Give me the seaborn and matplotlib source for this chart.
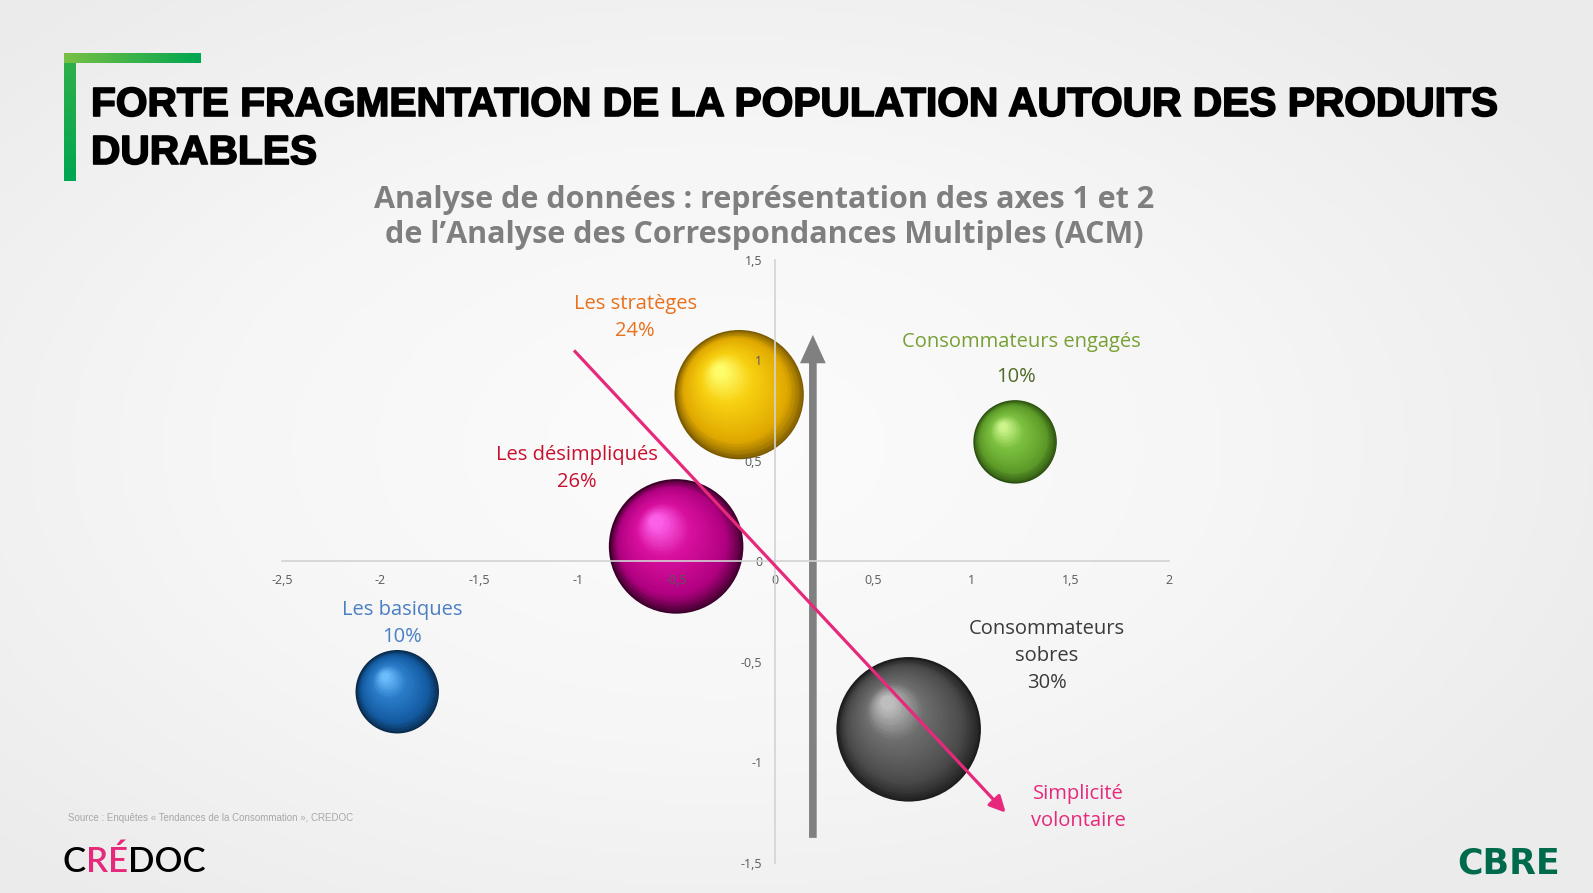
import numpy as np
import pandas as pd
import seaborn as sns
import matplotlib.pyplot as plt
import matplotlib.patheffects as pe
from matplotlib.colors import LinearSegmentedColormap
from matplotlib.transforms import ScaledTranslation
from matplotlib.patches import FancyArrowPatch

# Données (ACM, axes 1 et 2)
segments = ["Les stratèges", "Les désimpliqués", "Consommateurs engagés",
            "Les basiques", "Consommateurs sobres"]
axe1 = [-0.18, -0.50, 1.22, -1.915, 0.68]
axe2 = [0.83, 0.075, 0.595, -0.648, -0.835]
parts = [24, 26, 10, 10, 30]

x_ticks = [-2.5, -2, -1.5, -1, -0.5, 0, 0.5, 1, 1.5, 2]
y_ticks = [-1.5, -1, -0.5, 0, 0.5, 1, 1.5]

# flèches (départ, arrivée) en coordonnées des axes
fleche_axe = [(0.194, -1.375), (0.194, 1.127)]
fleche_simplicite = [(-1.018, 1.05), (1.173, -1.25)]

df = pd.DataFrame({"segment": segments, "axe1": axe1, "axe2": axe2, "part": parts})

# couleurs des sphères : bord sombre, teinte, teinte claire, reflet
couleurs = {
    "Les stratèges": ["#7a5a00", "#e0a800", "#f7cf10", "#ffff70"],
    "Les désimpliqués": ["#3a0028", "#b00080", "#d8109e", "#ff66ee"],
    "Consommateurs engagés": ["#2b4f10", "#5c9a28", "#7cc040", "#d0f890"],
    "Les basiques": ["#082848", "#135aa0", "#2a7cc8", "#70c0ff"],
    "Consommateurs sobres": ["#1c1c1c", "#4a4a4a", "#6e6e6e", "#c4c4c4"],
}

DPI = 100
fig = plt.figure(figsize=(15.93, 8.93), dpi=DPI)

# fond clair en dégradé
bg = fig.add_axes([0, 0, 1, 1], zorder=-10)
yy, xx = np.mgrid[0:1:200j, 0:1:360j]
d = np.sqrt(((xx - 0.45) / 0.75) ** 2 + ((yy - 0.5) / 0.8) ** 2)
fond = LinearSegmentedColormap.from_list("fond", ["#fdfcfd", "#f7f6f7", "#ebebeb"])
bg.imshow(d, cmap=fond, extent=[0, 1, 0, 1], aspect="auto", vmin=0, vmax=0.85)
bg.set_xlim(0, 1)
bg.set_ylim(0, 1)
bg.axis("off")

# équerre verte du titre
barre_h = fig.add_axes([64 / 1593, 1 - 63 / 893, 137 / 1593, 10 / 893])
barre_h.imshow(np.linspace(0, 1, 50)[None, :], aspect="auto",
               cmap=LinearSegmentedColormap.from_list("v1", ["#78c043", "#00a651"]))
barre_h.axis("off")
barre_v = fig.add_axes([64 / 1593, 1 - 181 / 893, 12 / 1593, 118 / 893])
barre_v.imshow(np.linspace(0, 1, 50)[:, None], aspect="auto",
               cmap=LinearSegmentedColormap.from_list("v2", ["#2eaf4a", "#00a651"]))
barre_v.axis("off")

ax = fig.add_axes([0.177, 0.0336, 0.5567, 0.6753])
ax.patch.set_alpha(0)

echelle = 361.0  # surface du marqueur (pt²) pour 1 %
tailles = {p: echelle * p for p in sorted(set(parts))}
sns.scatterplot(data=df, x="axe1", y="axe2", hue="segment",
                palette={k: v[0] for k, v in couleurs.items()},
                size="part", sizes=tailles, legend=False, linewidth=0,
                ax=ax, zorder=1)

# dégradé sphérique : disques successifs décalés vers le reflet
n_couches = 40
for _, row in df.iterrows():
    cmap = LinearSegmentedColormap.from_list(
        row["segment"], list(zip([0, 0.28, 0.7, 1], couleurs[row["segment"]])))
    rayon = np.sqrt(echelle * row["part"]) / 2
    for k in range(1, n_couches):
        t = k / n_couches
        f = 1 - 0.93 * t
        dx = -0.33 * rayon * (1 - f)
        dy = 0.41 * rayon * (1 - f)
        tr = ax.transData + ScaledTranslation(dx / 72, dy / 72, fig.dpi_scale_trans)
        ax.scatter([row["axe1"]], [row["axe2"]], s=(2 * rayon * f) ** 2,
                   color=cmap(t ** 0.8), linewidths=0, transform=tr, zorder=1)

# axes croisés à l'origine
ax.set_xlim(-2.5, 2)
ax.set_ylim(-1.5, 1.5)
for s in ["top", "right"]:
    ax.spines[s].set_visible(False)
for s in ["left", "bottom"]:
    ax.spines[s].set_position(("data", 0))
    ax.spines[s].set_color("#d3d3d3")
    ax.spines[s].set_linewidth(1.2)
ax.set_xticks(x_ticks)
ax.set_yticks(y_ticks)
fmt = lambda v: f"{v:g}".replace(".", ",")
ax.set_xticklabels([fmt(v) for v in x_ticks])
ax.set_yticklabels([fmt(v) for v in y_ticks])
ax.tick_params(axis="x", length=0, pad=9, labelsize=9, labelcolor="#595959")
ax.tick_params(axis="y", length=0, pad=9, labelsize=9, labelcolor="#595959")
for lab in ax.get_xticklabels() + ax.get_yticklabels():
    lab.set_family("Open Sans")
ax.set_xlabel("")
ax.set_ylabel("")

# flèches
ax.add_patch(FancyArrowPatch(fleche_axe[0], fleche_axe[1],
                             arrowstyle="-|>,head_length=0.55,head_width=0.25",
                             mutation_scale=20, lw=5.5, color="#808080",
                             shrinkA=0, shrinkB=0, capstyle="butt", joinstyle="miter",
                             zorder=2))
ax.add_patch(FancyArrowPatch(fleche_simplicite[0], fleche_simplicite[1],
                             arrowstyle="-|>,head_length=0.7,head_width=0.35",
                             mutation_scale=14, lw=2.3, color="#e6297b",
                             shrinkA=0, shrinkB=0, capstyle="butt", zorder=3))

# étiquettes
police = "Open Sans"
fs = 14.5
ax.text(-0.708, 1.28, "Les stratèges", color="#e8711c", fontsize=fs, ha="center", va="center", family=police)
ax.text(-0.708, 1.147, "24%", color="#e8711c", fontsize=fs, ha="center", va="center", family=police)
ax.text(1.254, 1.093, "Consommateurs engagés", color="#76a034", fontsize=fs, ha="center", va="center", family=police)
ax.text(1.224, 0.919, "10%", color="#4f6b28", fontsize=fs, ha="center", va="center", family=police)
ax.text(-1.002, 0.531, "Les désimpliqués", color="#c8102e", fontsize=fs, ha="center", va="center", family=police)
ax.text(-1.002, 0.397, "26%", color="#c8102e", fontsize=fs, ha="center", va="center", family=police)
ax.text(-1.89, -0.24, "Les basiques", color="#4a7fc1", fontsize=fs, ha="center", va="center", family=police)
ax.text(-1.89, -0.375, "10%", color="#4a7fc1", fontsize=fs, ha="center", va="center", family=police)
ax.text(1.381, -0.47, "Consommateurs\nsobres\n30%", color="#3a3a3a", fontsize=fs, ha="center", va="center",
        family=police, linespacing=1.45)
ax.text(1.543, -1.225, "Simplicité\nvolontaire", color="#e6297b", fontsize=fs, ha="center", va="center",
        family=police, linespacing=1.45)

# titres
gras = [pe.withStroke(linewidth=1.2, foreground="black")]
fig.text(91 / 1593, 1 - 105 / 893, "FORTE FRAGMENTATION DE LA POPULATION AUTOUR DES PRODUITS",
         fontsize=29.3, fontweight="bold", color="black", va="center", family="Liberation Sans",
         path_effects=gras)
fig.text(91 / 1593, 1 - 153 / 893, "DURABLES",
         fontsize=29.3, fontweight="bold", color="black", va="center", family="Liberation Sans",
         path_effects=gras)
fig.text(764 / 1593, 1 - 200 / 893, "Analyse de données : représentation des axes 1 et 2",
         fontsize=22, fontweight="bold", color="#7f7f7f", ha="center", va="center", family="Open Sans")
fig.text(764 / 1593, 1 - 235 / 893, "de l’Analyse des Correspondances Multiples (ACM)",
         fontsize=22, fontweight="bold", color="#7f7f7f", ha="center", va="center", family="Open Sans")

fig.text(68 / 1593, 1 - 818 / 893, "Source : Enquêtes « Tendances de la Consommation », CREDOC",
         fontsize=7, color="#a8a8a8", va="center", family="Liberation Sans")

# logos
t1 = bg.text(63 / 1593, 1 - 862 / 893, "C", fontsize=25, color="black", va="center", family="Lato",
             fontweight="semibold", transform=fig.transFigure)
t2 = bg.annotate("RÉ", xy=(1, 0), xycoords=t1, va="bottom", fontsize=25, color="#e6297b",
                 family="Lato", fontweight="semibold")
bg.annotate("DOC", xy=(1, 0), xycoords=t2, va="bottom", fontsize=25, color="black",
            family="Lato", fontweight="semibold")
fig.text(1560 / 1593, 1 - 863 / 893, "CBRE", fontsize=25, fontweight="heavy", color="#006a4d",
         ha="right", va="center", family="DejaVu Sans")

fig.savefig("out.png", dpi=DPI)
